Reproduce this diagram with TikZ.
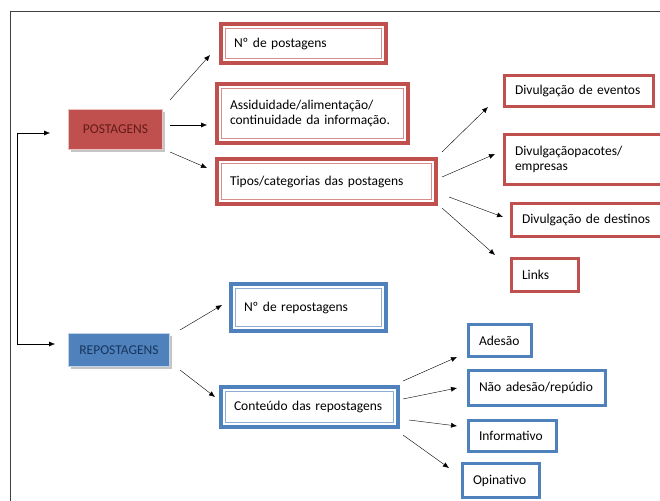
\documentclass[tikz,border=0pt]{standalone}
\usepackage{fontspec}
\setmainfont{Carlito}
\usepackage{tikz}
\usetikzlibrary{arrows.meta,positioning,calc,shadows}
\usepackage{xcolor}
\definecolor{postred}{RGB}{192,80,77}
\definecolor{postdark}{RGB}{99,27,26}
\definecolor{repblue}{RGB}{79,129,189}
\definecolor{repdark}{RGB}{23,54,93}

\begin{document}
\begin{tikzpicture}[x=1pt,y=-1pt,
    font=\fontsize{13.5}{15.5}\selectfont,
    arr/.style={-{Latex[length=6pt,width=5pt]}, thin, black},
    mainbox/.style n args={2}{fill=#1, draw=#1!35!white, line width=1pt, text=#2,
        drop shadow={shadow xshift=2pt, shadow yshift=-2pt, fill=gray, opacity=0.45}},
    dblbox/.style={draw=#1, line width=4pt, fill=white, inner xsep=13pt, inner ysep=2pt,
        align=left, anchor=west,
        path picture={\draw[#1!65!white, line width=1.2pt]
            ([shift={(4.6pt,-4.6pt)}]path picture bounding box.north west) rectangle
            ([shift={(-4.6pt,4.6pt)}]path picture bounding box.south east);}},
    leafbox/.style={draw=#1, line width=3pt, fill=white, inner xsep=10.5pt, inner ysep=2pt,
        align=left, anchor=west}]

    % page and frame
    \fill[white] (0,0) rectangle (660,500);
    \useasboundingbox (0,0) rectangle (660,500);
    \draw[gray!50!black, line width=0.8pt] (10,11) -- (680,11);
    \draw[gray!50!black, line width=0.8pt] (10,11) -- (10,520);

    % first level
    \node[mainbox={postred}{postdark}, minimum width=94, minimum height=40] (post) at (115.5,129.5) {POSTAGENS};
    \node[mainbox={repblue}{repdark}, minimum width=101, minimum height=33] (repost) at (119,350) {REPOSTAGENS};

    % second level
    \node[dblbox=postred, text width=139, minimum height=39] (nump) at (219,43.5) {Nº de postagens};
    \node[dblbox=postred, text width=165, minimum height=59] (assid) at (215,113.5) {Assiduidade/alimentação/\\continuidade da informação.};
    \node[dblbox=postred, text width=193, minimum height=45] (tipos) at (215,181.5) {Tipos/categorias das postagens};
    \node[dblbox=repblue, text width=129, minimum height=47] (numr) at (229,307.5) {Nº de repostagens};
    \node[dblbox=repblue, text width=151, minimum height=40] (cont) at (219,407) {Conteúdo das repostagens};

    % third level
    \node[leafbox=postred, text width=128, minimum height=31] (evt) at (503,91) {Divulgação de eventos};
    \node[leafbox=postred, text width=141, minimum height=50] (pac) at (503,159.5) {Divulgaçãopacotes/\\empresas};
    \node[leafbox=postred, text width=134, minimum height=33] (dest) at (510,220) {Divulgação de destinos};
    \node[leafbox=postred, text width=46, minimum height=33] (links) at (510,275) {Links};
    \node[leafbox=repblue, text width=42, minimum height=32] (ades) at (467,340.5) {Adesão};
    \node[leafbox=repblue, text width=116, minimum height=35] (naoad) at (467,388) {Não adesão/repúdio};
    \node[leafbox=repblue, text width=67, minimum height=31] (info) at (467,436) {Informativo};
    \node[leafbox=repblue, text width=56, minimum height=34] (opin) at (461,480.5) {Opinativo};

    % left bracket
    \coordinate (inP) at ($(post.west)+(-18,3.5)$);
    \coordinate (inR) at ($(repost.west)+(-13,-6)$);
    \draw[{Latex[length=6pt,width=5pt]}-{Latex[length=6pt,width=5pt]}, thin] (inP) -- ++(-33,0) |- (inR);

    % arrows
    \draw[arr] ($(post.north east)+(7,-9)$) -- ($(nump.west)+(-9,11.5)$);
    \draw[arr] ($(post.east)+(7,-4.5)$) -- ($(assid.west)+(-8,11.5)$);
    \draw[arr] ($(post.south east)+(7,2)$) -- ($(tipos.west)+(-8,-13.5)$);

    \draw[arr] ($(tipos.north east)+(4,-5)$) -- ($(evt.west)+(-15,16)$);
    \draw[arr] ($(tipos.east)+(4,-4.5)$) -- ($(pac.west)+(-8,-5.5)$);
    \draw[arr] ($(tipos.east)+(11,15.5)$) -- ($(dest.west)+(-7,-3)$);
    \draw[arr] ($(tipos.south east)+(4,2)$) -- ($(links.west)+(-15,-20)$);

    \draw[arr] ($(repost.north east)+(10,-3)$) -- ($(numr.west)+(-7,-2.5)$);
    \draw[arr] ($(repost.south east)+(10,3)$) -- ($(cont.west)+(-4,-10)$);

    \draw[arr] ($(cont.north east)+(3,-4)$) -- ($(ades.west)+(-10,16.5)$);
    \draw[arr] ($(cont.east)+(3,-8)$) -- ($(naoad.west)+(-10,0)$);
    \draw[arr] ($(cont.east)+(9,13)$) -- ($(info.west)+(-10,-10)$);
    \draw[arr] ($(cont.south east)+(3,6)$) -- ($(opin.west)+(-12,-12.5)$);
\end{tikzpicture}
\end{document}
